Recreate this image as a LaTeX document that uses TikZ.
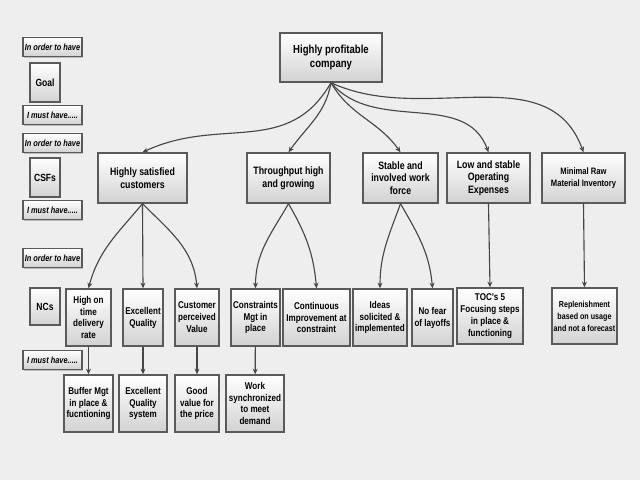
\documentclass[tikz,border=0pt]{standalone}
\usepackage{fontspec}
\setmainfont{Liberation Sans}[FakeStretch=0.82]
\usetikzlibrary{shadows,arrows.meta}
\definecolor{tmback}{RGB}{238,238,238}
\definecolor{tmedge}{RGB}{90,90,90}
\definecolor{tmline}{RGB}{70,70,70}
\definecolor{tmshade}{RGB}{210,210,210}

\tikzset{
  box/.style={draw=tmedge, line width=1pt, top color=white, bottom color=tmshade,
    drop shadow={shadow xshift=0.8pt, shadow yshift=-0.8pt, fill=black!45},
    align=center, inner sep=1pt, font=\bfseries\fontsize{7}{8.5}\selectfont},
  csfbox/.style={box, minimum height=1.25cm, font=\bfseries\fontsize{7.6}{9}\selectfont},
  ncbox/.style={box, minimum height=1.425cm},
  legend/.style={box, minimum width=1.475cm, minimum height=0.475cm,
    font=\bfseries\itshape\fontsize{6.4}{7}\selectfont},
  tag/.style={box, minimum width=0.75cm, minimum height=0.975cm,
    font=\bfseries\fontsize{7.4}{8.5}\selectfont},
  link/.style={draw=tmline, line width=0.8pt, -{Stealth[length=4pt,width=3.5pt]}},
}

\begin{document}
\begin{tikzpicture}[x=0.025cm, y=-0.025cm]
  \fill[tmback] (0,0) rectangle (640,480);
  \useasboundingbox (0,0) rectangle (640,480);

  % legend on the left
  \node[legend] (order1) at (52.5,47) {In order to have};
  \node[tag] (goal) at (45,82.5) {Goal};
  \node[legend] (must1) at (52.5,115) {I must have.....};
  \node[legend] (order2) at (52.5,143) {In order to have};
  \node[tag] (csfs) at (45,177.5) {CSFs};
  \node[legend] (must2) at (52.5,210) {I must have.....};
  \node[legend] (order3) at (52.5,258) {In order to have};
  \node[tag, minimum height=0.925cm] (ncs) at (45,306.5) {NCs};
  \node[legend] (must3) at (52.5,360) {I must have.....};

  % goal
  \node[box, minimum width=2.55cm, minimum height=1.225cm,
    font=\bfseries\fontsize{8.3}{10}\selectfont] (top) at (331,57.5) {Highly profitable\\company};

  % critical success factors
  \node[csfbox, minimum width=2.225cm] (csf1) at (142.5,178) {Highly satisfied\\customers};
  \node[csfbox, minimum width=2.075cm] (csf2) at (288.5,178) {Throughput high\\and growing};
  \node[csfbox, minimum width=1.875cm] (csf3) at (400.5,178) {Stable and\\involved work\\force};
  \node[csfbox, minimum width=2.075cm] (csf4) at (488.5,178) {Low and stable\\Operating\\Expenses};
  \node[csfbox, minimum width=2.075cm, font=\bfseries\fontsize{6.6}{8.5}\selectfont] (csf5) at (583.5,178) {Minimal Raw\\Material Inventory};

  % necessary conditions
  \node[ncbox, minimum width=1.125cm] (nc1) at (88.5,317.5) {High on\\time\\delivery\\rate};
  \node[ncbox, minimum width=1cm] (nc2) at (143,317.5) {Excellent\\Quality};
  \node[ncbox, minimum width=1.1cm] (nc3) at (197,317.5) {Customer\\perceived\\Value};
  \node[ncbox, minimum width=1.225cm] (nc4) at (255.5,317.5) {Constraints\\Mgt in\\place};
  \node[ncbox, minimum width=1.675cm] (nc5) at (316.5,317.5) {Continuous\\Improvement at\\constraint};
  \node[ncbox, minimum width=1.35cm] (nc6) at (380,317.5) {Ideas\\solicited \&\\implemented};
  \node[ncbox, minimum width=1.025cm] (nc7) at (432.5,317.5) {No fear\\of layoffs};
  \node[ncbox, minimum width=1.65cm, minimum height=1.4cm] (nc8) at (490,316) {TOC's 5\\Focusing steps\\in place \&\\functioning};
  \node[ncbox, minimum width=1.625cm, minimum height=1.4cm,
    font=\bfseries\fontsize{6.2}{8.5}\selectfont] (nc9) at (584.5,316) {Replenishment\\based on usage\\and not a forecast};

  % what must be in place
  \node[ncbox, minimum width=1.225cm] (buf) at (88.5,403.5) {Buffer Mgt\\in place \&\\fucntioning};
  \node[ncbox, minimum width=1.2cm] (qsys) at (143,403.5) {Excellent\\Quality\\system};
  \node[ncbox, minimum width=1.1cm] (value) at (197,403.5) {Good\\value for\\the price};
  \node[ncbox, minimum width=1.45cm] (sync) at (255,403.5) {Work\\synchronized\\to meet\\demand};

  % links
  \draw[link] (top.south) to[out=240, in=25, looseness=1.1] (csf1.north);
  \draw[link] (top.south) to[out=260, in=55] (csf2.north);
  \draw[link] (top.south) to[out=300, in=125] (csf3.north);
  \draw[link] (top.south) to[out=310, in=110] (csf4.north);
  \draw[link] (top.south) to[out=335, in=110] (csf5.north);

  \draw[link] (csf1.south) to[out=230, in=75] (nc1.north);
  \draw[link] (csf1.south) -- (nc2.north);
  \draw[link] (csf1.south) to[out=-45, in=95] (nc3.north);
  \draw[link] (csf2.south) to[out=240, in=90] (nc4.north);
  \draw[link] (csf2.south) to[out=-60, in=95] (nc5.north);
  \draw[link] (csf3.south) to[out=250, in=90] (nc6.north);
  \draw[link] (csf3.south) to[out=-60, in=95] (nc7.north);
  \draw[link] (csf4.south) -- (nc8.north);
  \draw[link] (csf5.south) -- (nc9.north);

  \draw[link] (nc1) -- (buf);
  \draw[link] (nc2) -- (qsys);
  \draw[link] (nc3) -- (value);
  \draw[link] (nc4) -- (sync);
\end{tikzpicture}
\end{document}
